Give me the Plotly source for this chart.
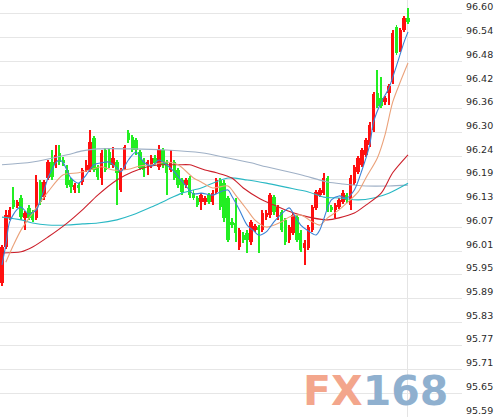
import numpy as np
import plotly.graph_objects as go

# ---- candle data (bar index order) ----
opens = [95.925, 96.015, 96.088, 96.133, 96.118, 96.138, 96.088, 96.113, 96.103, 96.088,
         96.178, 96.141, 96.188, 96.228, 96.221, 96.251, 96.234, 96.208, 96.183, 96.158,
         96.171, 96.178, 96.208, 96.208, 96.289, 96.216, 96.188, 96.259, 96.254, 96.221,
         96.228, 96.158, 96.213, 96.301, 96.291, 96.284, 96.254, 96.234, 96.221, 96.221,
         96.239, 96.216, 96.259, 96.228, 96.208, 96.228, 96.208, 96.183, 96.171, 96.188,
         96.151, 96.138, 96.128, 96.128, 96.146, 96.128, 96.153, 96.183, 96.176, 96.138,
         96.078, 96.076, 96.015, 96.046, 96.051, 96.028, 96.058, 96.066, 96.058, 96.091,
         96.096, 96.141, 96.091, 96.103, 96.083, 96.033, 96.051, 96.091, 96.051, 96.013,
         96.013, 96.058, 96.113, 96.146, 96.151, 96.188, 96.116, 96.108, 96.116, 96.128,
         96.146, 96.121, 96.176, 96.203, 96.221, 96.246, 96.271, 96.309, 96.401, 96.389,
         96.379, 96.401, 96.429, 96.567, 96.509, 96.559, 96.589]
highs = [96.021, 96.108, 96.116, 96.166, 96.133, 96.146, 96.106, 96.121, 96.108, 96.196,
         96.183, 96.183, 96.234, 96.259, 96.271, 96.271, 96.241, 96.221, 96.188, 96.176,
         96.176, 96.213, 96.234, 96.309, 96.294, 96.221, 96.259, 96.264, 96.264, 96.266,
         96.234, 96.213, 96.271, 96.309, 96.296, 96.289, 96.259, 96.239, 96.234, 96.246,
         96.246, 96.271, 96.264, 96.234, 96.259, 96.234, 96.213, 96.188, 96.188, 96.193,
         96.158, 96.143, 96.151, 96.143, 96.151, 96.158, 96.188, 96.188, 96.183, 96.143,
         96.088, 96.138, 96.063, 96.053, 96.058, 96.083, 96.073, 96.071, 96.108, 96.108,
         96.151, 96.146, 96.121, 96.108, 96.088, 96.071, 96.101, 96.096, 96.058, 96.033,
         96.071, 96.121, 96.158, 96.163, 96.201, 96.193, 96.121, 96.126, 96.138, 96.158,
         96.151, 96.196, 96.221, 96.244, 96.264, 96.289, 96.329, 96.404, 96.459, 96.441,
         96.394, 96.424, 96.559, 96.572, 96.564, 96.594, 96.614]
lows = [95.918, 96.010, 96.083, 96.111, 96.113, 96.083, 96.058, 96.083, 96.078, 96.083,
        96.121, 96.133, 96.183, 96.183, 96.213, 96.221, 96.218, 96.163, 96.151, 96.151,
        96.151, 96.171, 96.203, 96.203, 96.203, 96.183, 96.171, 96.203, 96.213, 96.213,
        96.121, 96.153, 96.208, 96.276, 96.254, 96.246, 96.208, 96.191, 96.196, 96.213,
        96.221, 96.208, 96.213, 96.146, 96.203, 96.183, 96.163, 96.146, 96.163, 96.138,
        96.133, 96.116, 96.108, 96.121, 96.123, 96.121, 96.148, 96.108, 96.078, 96.028,
        96.063, 96.028, 96.008, 96.026, 96.000, 96.021, 96.053, 96.000, 96.053, 96.083,
        96.088, 96.096, 96.083, 96.053, 96.021, 96.026, 96.046, 96.028, 96.003, 95.970,
        96.008, 96.053, 96.108, 96.141, 96.146, 96.103, 96.103, 96.088, 96.111, 96.123,
        96.126, 96.108, 96.171, 96.198, 96.216, 96.241, 96.266, 96.304, 96.364, 96.364,
        96.371, 96.371, 96.424, 96.497, 96.504, 96.554, 96.574]
closes = [96.015, 96.096, 96.108, 96.116, 96.128, 96.091, 96.101, 96.088, 96.083, 96.178,
          96.128, 96.178, 96.228, 96.191, 96.246, 96.228, 96.226, 96.171, 96.166, 96.171,
          96.163, 96.208, 96.221, 96.279, 96.208, 96.191, 96.251, 96.208, 96.221, 96.239,
          96.201, 96.208, 96.266, 96.284, 96.259, 96.259, 96.213, 96.208, 96.228, 96.239,
          96.226, 96.259, 96.221, 96.201, 96.226, 96.188, 96.171, 96.153, 96.183, 96.146,
          96.138, 96.121, 96.146, 96.138, 96.128, 96.151, 96.183, 96.116, 96.088, 96.033,
          96.071, 96.051, 96.058, 96.033, 96.033, 96.078, 96.068, 96.058, 96.101, 96.101,
          96.146, 96.103, 96.116, 96.058, 96.028, 96.066, 96.096, 96.033, 96.008, 96.026,
          96.066, 96.116, 96.153, 96.158, 96.188, 96.108, 96.108, 96.121, 96.133, 96.151,
          96.133, 96.188, 96.216, 96.239, 96.259, 96.284, 96.321, 96.399, 96.369, 96.369,
          96.389, 96.419, 96.552, 96.502, 96.559, 96.589, 96.579]

# ---- moving average lines (sampled at bar indices) ----
ma_blue_idx = [0, 1, 2, 4, 5, 7, 9, 10, 11, 12, 13, 14, 15, 16, 18, 20, 22, 24, 26, 28, 30, 31,
               33, 35, 37, 39, 41, 43, 45, 48, 50, 52, 55, 57, 59, 60, 62, 64, 66, 67, 69, 71,
               73, 75, 76, 78, 80, 82, 83, 85, 86, 88, 90, 92, 94, 96, 97, 99, 101, 103, 105, 106]
ma_blue_val = [95.971, 96.021, 96.079, 96.111, 96.116, 96.099, 96.109, 96.134, 96.159, 96.189,
               96.209, 96.227, 96.234, 96.227, 96.189, 96.176, 96.197, 96.222, 96.227, 96.229,
               96.214, 96.204, 96.234, 96.254, 96.229, 96.219, 96.234, 96.222, 96.204, 96.169,
               96.149, 96.151, 96.146, 96.154, 96.159, 96.144, 96.109, 96.071, 96.054, 96.046,
               96.054, 96.079, 96.099, 96.114, 96.101, 96.071, 96.056, 96.046, 96.059, 96.114,
               96.134, 96.144, 96.139, 96.159, 96.209, 96.272, 96.329, 96.379, 96.414, 96.470,
               96.530, 96.555]

ma_tan_idx = [1, 3, 5, 8, 12, 16, 20, 23, 26, 29, 33, 36, 39, 43, 46, 50, 52, 55, 59, 61, 64,
              66, 69, 73, 75, 78, 81, 83, 85, 88, 90, 93, 95, 98, 100, 102, 104, 106]
ma_tan_val = [95.978, 96.021, 96.059, 96.101, 96.154, 96.197, 96.202, 96.209, 96.217, 96.209,
              96.211, 96.219, 96.222, 96.229, 96.222, 96.189, 96.179, 96.164, 96.169, 96.146,
              96.109, 96.084, 96.066, 96.079, 96.091, 96.096, 96.079, 96.071, 96.089, 96.109,
              96.126, 96.154, 96.189, 96.239, 96.297, 96.379, 96.430, 96.477]

ma_red_idx = [0, 5, 8, 12, 17, 21, 25, 30, 34, 38, 42, 46, 49, 53, 56, 60, 63, 67, 71, 74, 78,
              81, 85, 88, 92, 95, 99, 102, 106]
ma_red_val = [96.001, 96.004, 96.016, 96.041, 96.076, 96.109, 96.146, 96.184, 96.204, 96.217,
              96.222, 96.222, 96.222, 96.209, 96.202, 96.189, 96.164, 96.139, 96.121, 96.109,
              96.096, 96.089, 96.084, 96.089, 96.101, 96.121, 96.151, 96.202, 96.247]

ma_cyan_idx = [0, 5, 8, 12, 17, 21, 25, 30, 34, 39, 43, 47, 52, 55, 59, 64, 69, 74, 80, 84, 88,
               93, 97, 101, 106]
ma_cyan_val = [96.091, 96.084, 96.076, 96.071, 96.071, 96.074, 96.076, 96.084, 96.096, 96.116,
               96.134, 96.151, 96.164, 96.176, 96.189, 96.184, 96.176, 96.166, 96.154, 96.141,
               96.139, 96.134, 96.139, 96.151, 96.176]

ma_gray_idx = [0, 8, 17, 21, 25, 34, 43, 52, 60, 65, 69, 78, 85, 89, 95, 101, 106]
ma_gray_val = [96.222, 96.229, 96.247, 96.257, 96.262, 96.262, 96.259, 96.252, 96.237, 96.227,
               96.217, 96.197, 96.179, 96.174, 96.169, 96.169, 96.171]

# ---- axis tick labels ----
y_tick_text = ["95.59", "95.65", "95.71", "95.77", "95.83", "95.89", "95.95", "96.01", "96.07",
               "96.13", "96.19", "96.24", "96.30", "96.36", "96.42", "96.48", "96.54", "96.60"]

RED = "#ff1010"
GREEN = "#22ee22"

o = np.array(opens)
h = np.array(highs)
l = np.array(lows)
c = np.array(closes)
idx = np.arange(len(o))
up = c >= o
colors = [RED if u else GREEN for u in up]

fig = go.Figure()
# wicks
fig.add_trace(go.Bar(x=idx, base=l, y=h - l, width=0.26, marker=dict(color=colors, line=dict(width=0)),
                     hoverinfo="skip", showlegend=False))
# bodies
body = np.maximum(np.abs(c - o), 0.0018)
fig.add_trace(go.Bar(x=idx, base=np.minimum(o, c), y=body, width=0.9,
                     marker=dict(color=colors, line=dict(width=0)), showlegend=False))

for xs, ys, col in [(ma_gray_idx, ma_gray_val, "#9fb0c6"),
                    (ma_cyan_idx, ma_cyan_val, "#2ab8c4"),
                    (ma_red_idx, ma_red_val, "#cc1f2a"),
                    (ma_tan_idx, ma_tan_val, "#eba27a"),
                    (ma_blue_idx, ma_blue_val, "#3b82d6")]:
    fig.add_trace(go.Scatter(x=xs, y=ys, mode="lines",
                             line=dict(color=col, width=1.1, shape="spline", smoothing=0.8),
                             showlegend=False, hoverinfo="skip"))

tickvals = np.linspace(95.59, 96.60, len(y_tick_text))

# price labels sit just above their grid lines, right of the plot area
annotations = [dict(xref="paper", yref="y", x=1, y=float(v), xanchor="left", yanchor="middle",
                    xshift=2, yshift=7, showarrow=False, text=t,
                    font=dict(family="DejaVu Sans", size=9.5, color="#2a2a2a"))
               for v, t in zip(tickvals, y_tick_text)]

annotations.append(dict(xref="paper", yref="paper", x=0.652, y=0.063, xanchor="left", yanchor="middle",
                        showarrow=False,
                        text="<b><span style='color:#f3a68c'>FX</span><span style='color:#8fb0cf'>168</span></b>",
                        font=dict(family="DejaVu Sans", size=41, color="#8fb0cf")))

fig.update_layout(
    width=495, height=417,
    margin=dict(l=0, r=33, t=0, b=0),
    paper_bgcolor="white", plot_bgcolor="white",
    barmode="overlay", bargap=0,
    showlegend=False,
    xaxis=dict(range=[-0.52, 120.1], showticklabels=False, ticks="", zeroline=False,
               tickvals=[len(o) - 1], showgrid=True, gridcolor="#e4e4e4", gridwidth=1,
               showline=False, fixedrange=True),
    yaxis=dict(range=[95.59, 96.635], side="right", tickvals=tickvals, showticklabels=False,
               showgrid=True, gridcolor="#e6e6e6", gridwidth=1.2, zeroline=False, ticks="",
               showline=False),
    annotations=annotations,
)

fig.write_html("out.html", config={"displayModeBar": False},
               post_script="document.body.style.margin='0';document.body.style.overflow='hidden';")
